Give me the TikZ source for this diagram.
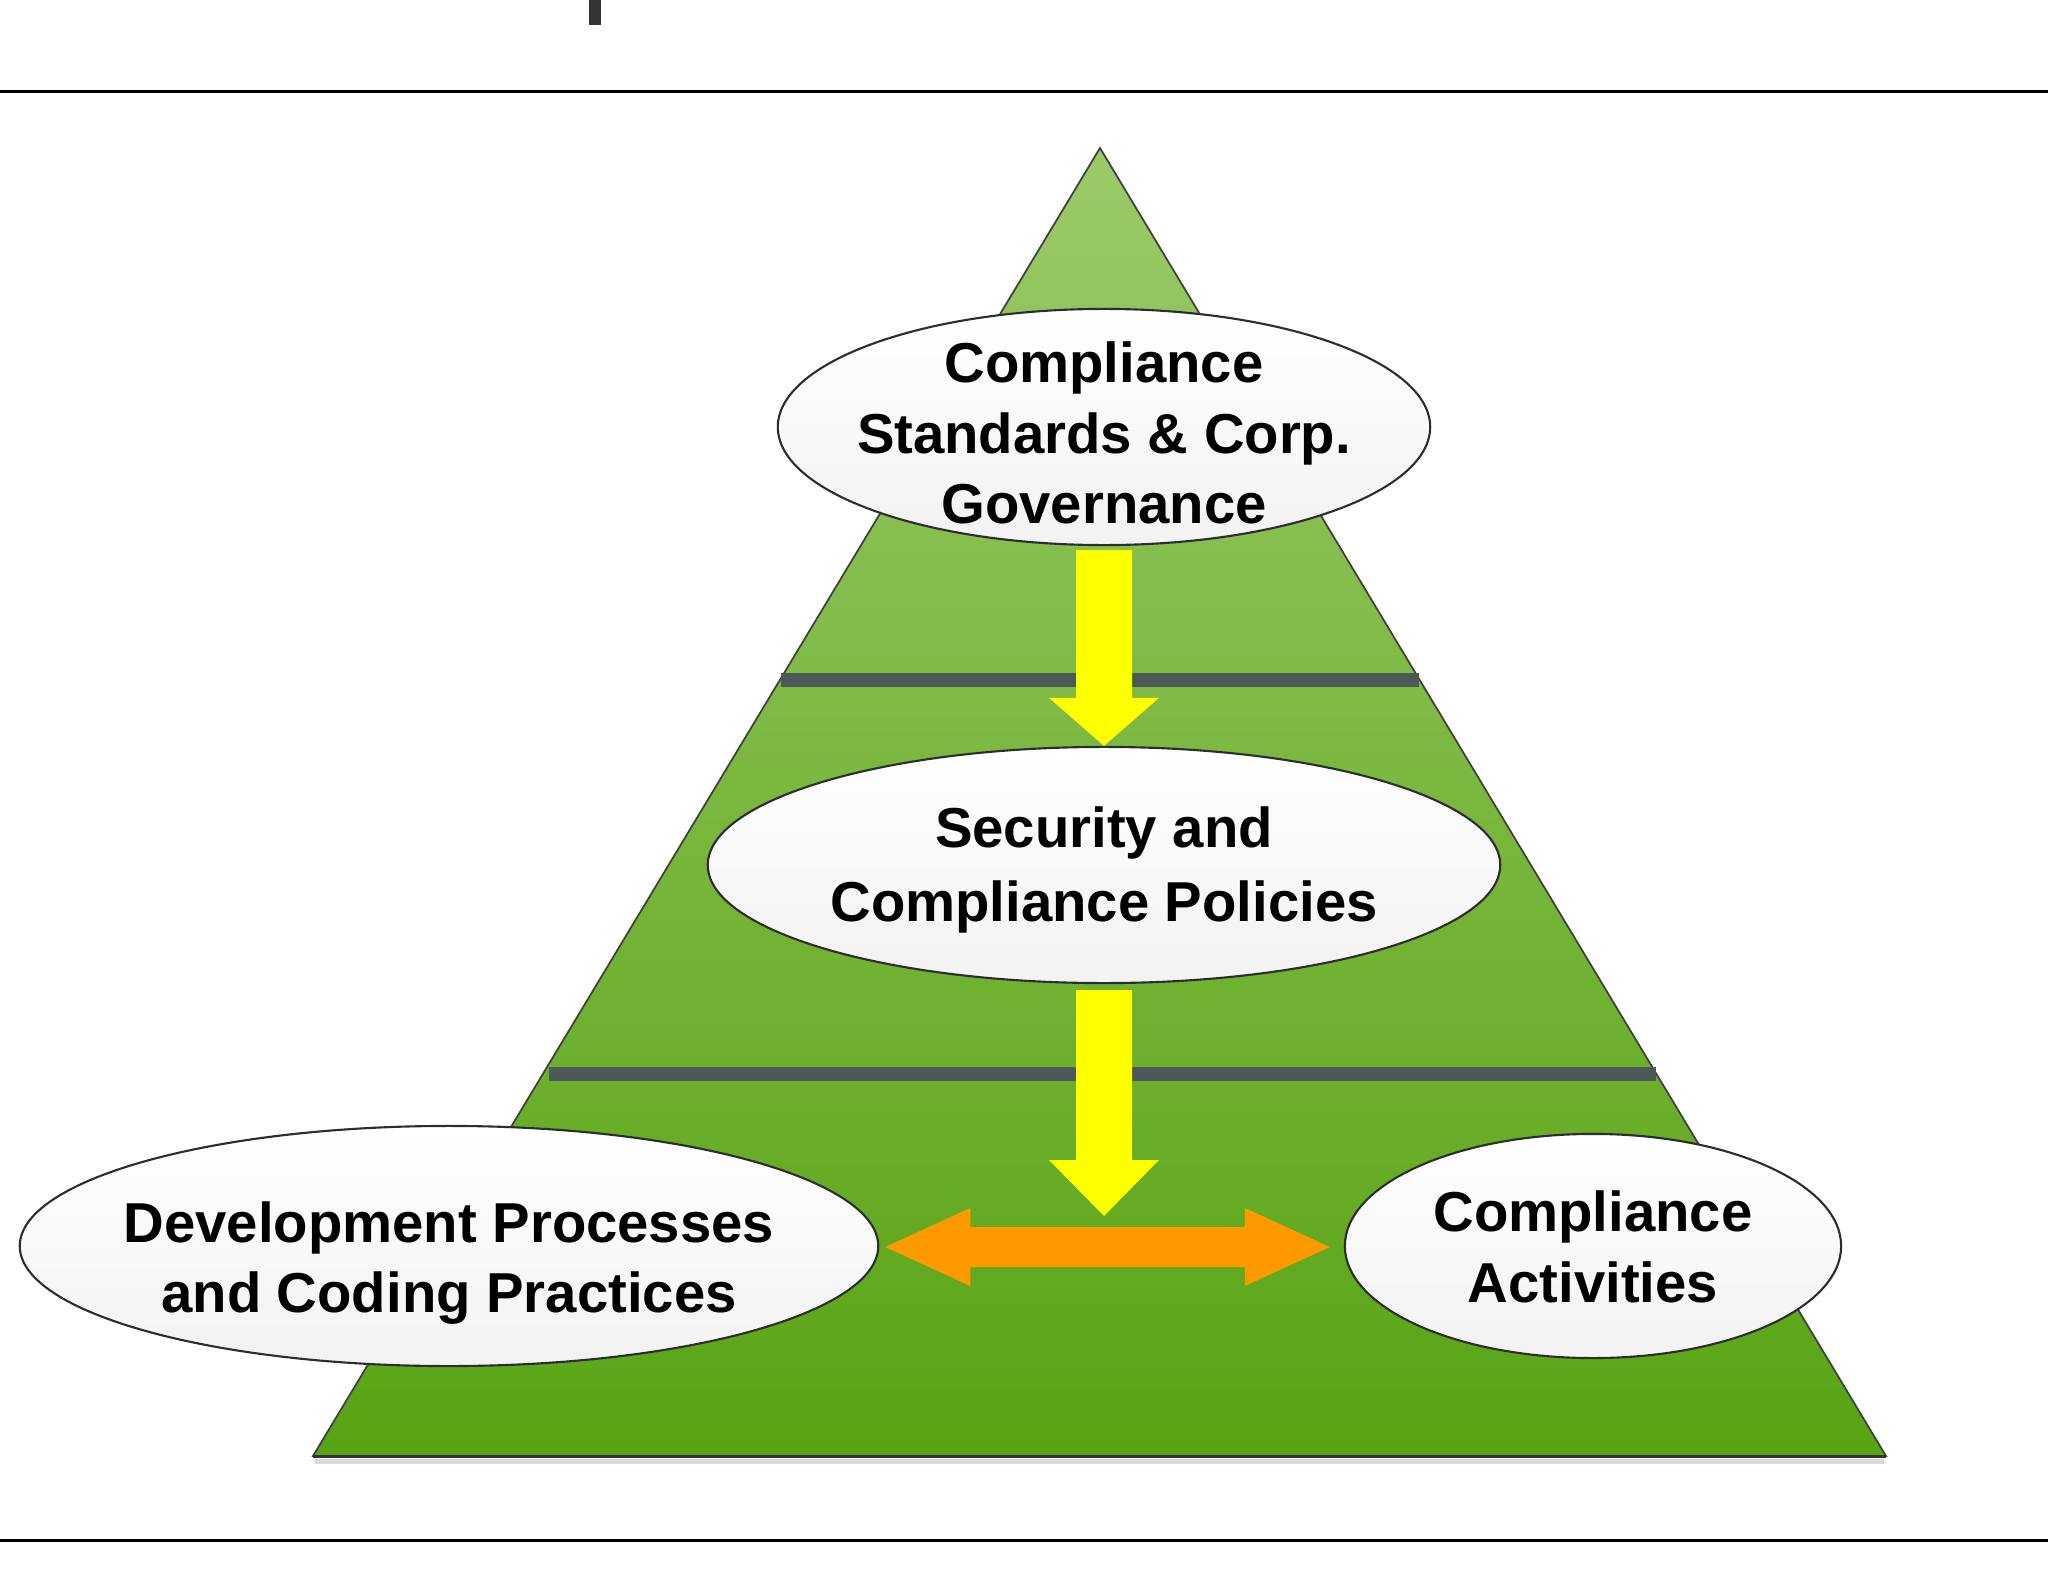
\documentclass[tikz,border=0pt]{standalone}
\usepackage{fontspec}
\setmainfont{Liberation Sans}
\usetikzlibrary{calc,shapes.geometric}
\definecolor{gtop}{RGB}{155,202,104}
\definecolor{gbot}{RGB}{88,164,20}
\definecolor{bandc}{RGB}{75,90,88}
\definecolor{yel}{RGB}{255,255,0}
\definecolor{org}{RGB}{255,153,0}
\definecolor{edge}{RGB}{45,45,45}
\begin{document}
\begin{tikzpicture}[x=0.01cm,y=-0.01cm,
  oval/.style={ellipse, draw=edge, line width=0.6pt, top color=white, bottom color=black!5, inner sep=0pt},
  lbl/.style={font=\fontsize{16pt}{20pt}\selectfont\bfseries, align=center, text=black, inner sep=0pt},
  bandline/.style={draw=bandc, line width=0.14cm},
  rule/.style={draw=black, line width=0.03cm}]
\useasboundingbox (0,0) rectangle (2048,1582);
\fill[white] (0,0) rectangle (2048,1582);
% rules and cut-off mark
\draw[rule] (0,92) -- (2048,92);
\draw[rule] (0,1540) -- (2048,1540);
\fill[black!80] (589,0) rectangle (601,25);
% pyramid
\coordinate (apex) at (1100,148);
\coordinate (bl) at (313,1456);
\coordinate (br) at (1886,1456);
\draw[black!15, line width=0.05cm] (315,1461) -- (1884,1461);
\path[top color=gtop, bottom color=gbot, draw=black!75, line width=0.5pt] (apex) -- (br) -- (bl) -- cycle;
\draw[black!80, line width=0.03cm] (bl) -- (br);
% bands
\draw[bandline] (781,680) -- (1419,680);
\draw[bandline] (549,1074) -- (1656,1074);
% ellipses
\node[oval, minimum width=6.52cm, minimum height=2.36cm] (gov) at (1104,427) {};
\node[oval, minimum width=7.92cm, minimum height=2.36cm] (pol) at (1104,865) {};
\node[oval, minimum width=8.58cm, minimum height=2.40cm] (dev) at (449,1246) {};
\node[oval, minimum width=4.96cm, minimum height=2.24cm] (act) at (1593,1246) {};
% labels
\node[lbl] (govt) at (1104,433) {Compliance\\Standards \& Corp.\\Governance};
\node[lbl, font=\fontsize{16pt}{20.8pt}\selectfont\bfseries] (polt) at (1104,870) {Security and\\Compliance Policies};
\node[lbl] (devt) at (449,1263) {Development Processes\\and Coding Practices};
\node[lbl] (actt) at (1593,1247) {Compliance\\Activities};
% yellow arrow 1
\fill[yel] ($(gov.south)+(-28,4)$) -- ($(gov.south)+(28,4)$) -- ($(pol.north)+(28,-48)$) -- ($(pol.north)+(55,-48)$) -- (pol.north) -- ($(pol.north)+(-55,-48)$) -- ($(pol.north)+(-28,-48)$) -- cycle;
% yellow arrow 2
\coordinate (ytip) at (1104,1216);
\fill[yel] ($(pol.south)+(-28,6)$) -- ($(pol.south)+(28,6)$) -- ($(ytip)+(28,-56)$) -- ($(ytip)+(55,-56)$) -- (ytip) -- ($(ytip)+(-55,-56)$) -- ($(ytip)+(-28,-56)$) -- cycle;
% orange double arrow
\coordinate (oL) at ($(dev.east)+(6,1)$);
\coordinate (oR) at ($(act.west)+(-14,1)$);
\fill[org] (oL) -- ($(oL)+(85,-39)$) -- ($(oL)+(85,-20)$) -- ($(oR)+(-85,-20)$) -- ($(oR)+(-85,-39)$) -- (oR) -- ($(oR)+(-85,39)$) -- ($(oR)+(-85,20)$) -- ($(oL)+(85,20)$) -- ($(oL)+(85,39)$) -- cycle;
\end{tikzpicture}
\end{document}
